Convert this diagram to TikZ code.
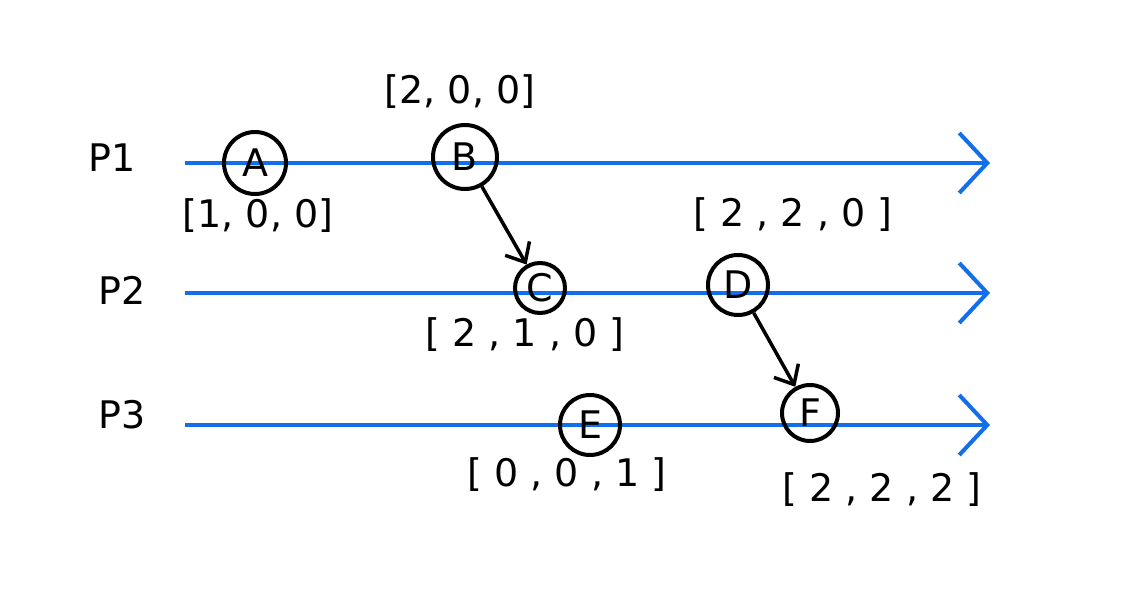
\documentclass[tikz,border=0pt]{standalone}
\usepackage{fontspec}
\setmainfont{DejaVu Sans}
\usetikzlibrary{arrows.meta}
\definecolor{tlblue}{RGB}{18,110,235}
\begin{document}
\begin{tikzpicture}[x=1pt,y=-1pt,
  tl/.style={draw=tlblue,line width=4pt,-{Straight Barb[length=28pt,width=60pt,line width=4pt]}},
  ev/.style={circle,draw,line width=4pt,inner sep=0pt,font=\fontsize{38}{38}\selectfont},
  lab/.style={font=\fontsize{38}{38}\selectfont},
  msg/.style={line width=3.5pt,-{Straight Barb[length=16pt,width=28pt,line width=3.5pt]}}]
\useasboundingbox (0,0) rectangle (1132,599);
\node[lab] (p1) at (112,158) {P1};
\node[lab] (p2) at (122,290) {P2};
\node[lab] (p3) at (122,415) {P3};
\coordinate (s1) at (185,163); \coordinate (e1) at (990,163);
\coordinate (s2) at (185,293); \coordinate (e2) at (990,293);
\coordinate (s3) at (185,425); \coordinate (e3) at (990,425);
\draw[tl] (s1) -- (e1);
\draw[tl] (s2) -- (e2);
\draw[tl] (s3) -- (e3);
\node[ev,minimum size=62pt] (A) at (255,163) {A};
\node[ev,minimum size=64pt] (B) at (465,157) {B};
\node[ev,minimum size=50pt] (C) at (540,288) {C};
\node[ev,minimum size=60pt] (D) at (738,285) {D};
\node[ev,minimum size=60pt] (E) at (590,425) {E};
\node[ev,minimum size=56pt] (F) at (810,413) {F};
\node[lab] (vb) at (460,92) {[2, 0, 0]};
\node[lab] (va) at (258,216) {[1, 0, 0]};
\node[lab] (vd) at (793,215) {[ 2 , 2 , 0 ]};
\node[lab] (vc) at (525,335) {[ 2 , 1 , 0 ]};
\node[lab] (ve) at (567,475) {[ 0 , 0 , 1 ]};
\node[lab] (vf) at (882,490) {[ 2 , 2 , 2 ]};
\draw[msg] (B) -- (C);
\draw[msg] (D) -- (F);
\end{tikzpicture}
\end{document}
